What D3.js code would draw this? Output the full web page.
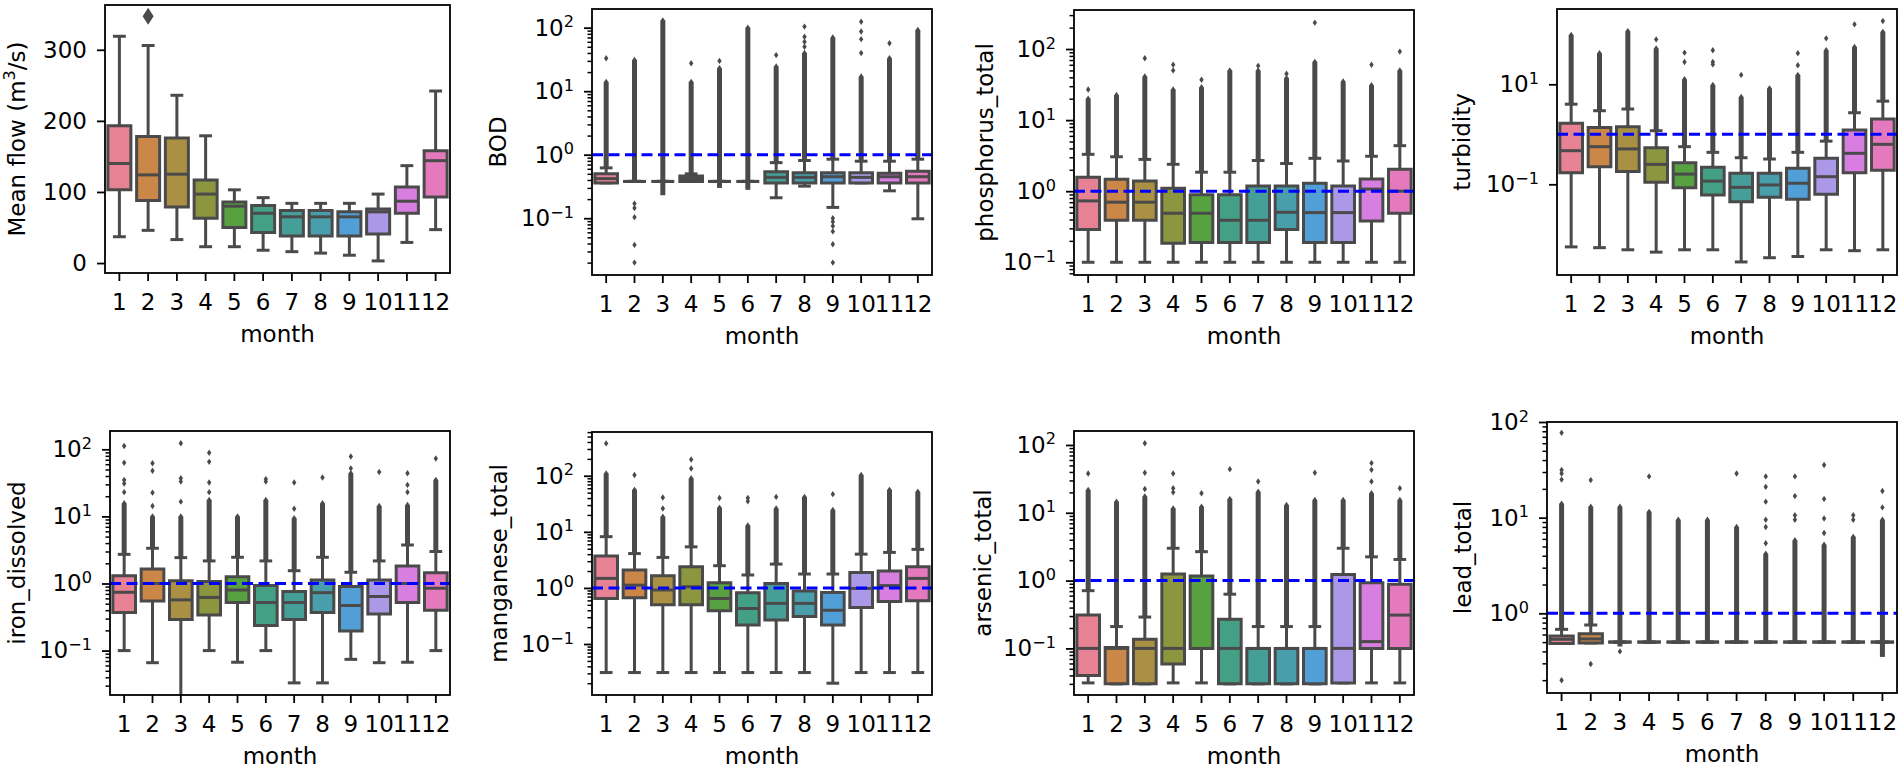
<!DOCTYPE html>
<html>
<head>
<meta charset="utf-8">
<script src="https://cdn.jsdelivr.net/npm/d3@7"></script>
<style>
  body { margin: 0; background: #fff; }
  text { font-family: "DejaVu Sans", sans-serif; }
</style>
</head>
<body>
<div id="chart"></div>
<script>
var months = [1, 2, 3, 4, 5, 6, 7, 8, 9, 10, 11, 12];
// husl-like palette, desaturated below like seaborn does
var baseColors = ["#f77189", "#e18632", "#bb9832", "#97a431", "#50b131", "#34af8a",
                  "#36ada4", "#38aabc", "#3ba3ec", "#a48cf4", "#e76ef1", "#f668c2"];

// box stats per month: [whisker low, q1, median, q3, whisker high]
// dense = range covered by a solid column of outliers, fliers = single outliers
var flowBox = [[37,103,140,193,319],[46,88,124,178,306],[33,79,125,176,236],[23,63,97,117,179],
  [23,50,80,86,103],[18,43,70,81,92],[16,38,65,74,84],[14,38,65,74,84],[11,38,65,72,84],
  [3,41,72,76,97],[29,70,87,107,137],[47,93,144,158,242]];
var flowFliers = [[],[347],[],[],[],[],[],[],[],[],[],[]];

var bodBox = [[0.36,0.36,0.42,0.5,0.62],[0.38,0.38,0.38,0.38,0.38],[0.38,0.38,0.38,0.38,0.38],
  [0.38,0.38,0.42,0.46,0.5],[0.38,0.38,0.38,0.38,0.38],[0.38,0.38,0.38,0.38,0.38],
  [0.21,0.36,0.44,0.54,0.75],[0.32,0.36,0.44,0.52,0.81],[0.148,0.36,0.45,0.52,0.85],
  [0.36,0.36,0.44,0.52,0.79],[0.27,0.36,0.45,0.51,0.79],[0.098,0.36,0.45,0.55,0.85]];
var bodDense = [[0.62,14],[0.38,31],[0.23,130],[0.5,14],[0.3,23],[0.28,100],[0.75,24.5],
  [0.81,40],[0.85,70],[0.79,17],[0.79,33],[0.85,92]];
var bodFliers = [[33],[0.17,0.145,0.104,0.038,0.02],[],[27.5],[30],[],[37],[104,72,60,50],
  [0.1,0.088,0.0755,0.062,0.039,0.02],[124,87,66,40],[57],[]];

var phosBox = [[0.1,0.29,0.73,1.57,3.3],[0.1,0.39,0.7,1.47,3.05],[0.1,0.39,0.7,1.39,2.8],
  [0.1,0.185,0.49,1.1,2.39],[0.1,0.19,0.49,0.89,1.85],[0.1,0.19,0.39,0.89,1.85],
  [0.1,0.19,0.39,1.18,2.7],[0.1,0.29,0.505,1.18,2.45],[0.1,0.19,0.5,1.29,2.9],
  [0.1,0.19,0.5,1.18,2.66],[0.1,0.38,1.07,1.48,3.1],[0.1,0.49,1.0,2.03,4.37]];
var phosDense = [[3.3,20],[3.05,22.5],[2.8,41],[2.39,27],[1.85,29],[1.85,50],[2.7,50],
  [2.45,39],[2.9,66],[2.66,35],[3.1,31],[4.37,50]];
var phosFliers = [[27],[],[74],[60,50],[37],[],[58],[45],[235],[],[60],[92]];

var turbBox = [[0.0056,0.17,0.47,1.66,4.0],[0.0054,0.225,0.565,1.36,2.96],[0.0049,0.18,0.51,1.42,3.2],
  [0.0044,0.11,0.25,0.54,1.18],[0.0049,0.0855,0.16,0.27,0.565],[0.0049,0.061,0.116,0.22,0.436],
  [0.0028,0.045,0.087,0.166,0.34],[0.0034,0.055,0.097,0.166,0.32],[0.0036,0.05,0.105,0.21,0.436],
  [0.0049,0.063,0.142,0.33,0.73],[0.0047,0.17,0.417,1.22,2.7],[0.0049,0.19,0.63,2.02,4.6]];
var turbDense = [[4,97],[2.96,42],[3.2,116],[1.18,52],[0.565,12.6],[0.436,9.7],[0.34,5.6],
  [0.32,8.3],[0.436,15.4],[0.73,48],[2.7,56],[4.6,112]];
var turbFliers = [[],[],[],[79],[43,28],[48,28,25],[15.4],[],[42,24],[83],[158],[185]];

var ironBox = [[0.1,0.37,0.74,1.31,2.72],[0.066,0.55,1.0,1.65,3.35],[0.01,0.29,0.57,1.1,2.43],
  [0.1,0.34,0.62,1.07,2.17],[0.067,0.52,0.8,1.26,2.46],[0.1,0.236,0.52,0.93,2.17],
  [0.033,0.29,0.52,0.76,1.55],[0.033,0.37,0.73,1.13,2.46],[0.074,0.196,0.47,0.9,1.47],
  [0.066,0.35,0.64,1.13,2.17],[0.067,0.52,1.0,1.82,3.75],[0.1,0.4,0.85,1.45,3.0]];
var ironDense = [[2.72,15.7],[3.35,10],[2.43,10],[2.17,17.6],[2.46,10],[2.17,17.6],[1.55,9.4],
  [2.46,15.7],[1.47,44],[2.17,14.3],[3.75,14.8],[3.0,35]];
var ironFliers = [[112,63,35,31,23],[62,48,22.6,14.3],[123,37,33,16.6],[89,65,32,23],[],[36,33],
  [32,13],[38],[78,52],[46],[44,29.5,23],[73]];

var mangBox = [[0.031,0.65,1.48,3.7,8.2],[0.031,0.67,1.12,2.08,4.1],[0.031,0.5,0.92,1.65,3.5],
  [0.031,0.5,1.05,2.39,5.4],[0.031,0.39,0.65,1.24,2.49],[0.031,0.218,0.43,0.82,1.7],
  [0.031,0.267,0.53,1.2,2.66],[0.031,0.31,0.53,0.88,1.77],[0.02,0.218,0.4,0.83,1.77],
  [0.031,0.45,0.98,1.89,4.0],[0.031,0.57,1.1,2.0,4.3],[0.031,0.59,1.48,2.39,4.87]];
var mangDense = [[8.2,110],[4.1,56],[3.5,18.6],[5.4,90],[2.49,27],[1.7,13],[2.66,26],[1.77,42],
  [1.77,24.5],[4.0,103],[4.3,56],[4.87,52]];
var mangFliers = [[377],[103],[41,26],[195,135],[40],[40,35],[42],[],[47],[],[],[]];

var arsBox = [[0.031,0.04,0.1,0.31,0.71],[0.03,0.03,0.1,0.103,0.21],[0.03,0.03,0.1,0.137,0.29],
  [0.031,0.059,0.1,1.25,3.0],[0.031,0.1,0.1,1.17,2.67],[0.03,0.03,0.1,0.27,0.63],
  [0.03,0.03,0.1,0.1,0.21],[0.03,0.03,0.1,0.1,0.21],[0.03,0.03,0.1,0.1,0.21],
  [0.031,0.031,0.1,1.23,3.0],[0.031,0.1,0.126,0.93,2.24],[0.031,0.1,0.31,0.88,2.05]];
var arsDense = [[0.71,21.7],[0.21,14.6],[0.29,17.4],[3.0,11.6],[2.67,12.3],[0.63,16],[0.21,20.4],
  [0.21,13],[0.21,15.4],[3.0,15.4],[2.24,19.4],[2.05,15.4]];
var arsFliers = [[38],[],[106,39,22.4],[38,23,20],[19.4],[44],[29],[],[39],[],[54,43,29],[23]];

var leadBox = [[0.485,0.485,0.535,0.58,0.68],[0.49,0.49,0.54,0.61,0.755],[0.5,0.5,0.5,0.5,0.5],
  [0.5,0.5,0.5,0.5,0.5],[0.5,0.5,0.5,0.5,0.5],[0.5,0.5,0.5,0.5,0.5],[0.5,0.5,0.5,0.5,0.5],
  [0.5,0.5,0.5,0.5,0.5],[0.5,0.5,0.5,0.5,0.5],[0.5,0.5,0.5,0.5,0.5],[0.5,0.5,0.5,0.5,0.5],
  [0.5,0.5,0.5,0.5,0.5]];
var leadDense = [[0.68,14],[0.755,13],[0.45,13],[0.5,11.5],[0.5,9.5],[0.5,9.5],[0.5,8],[0.5,4.2],
  [0.5,5.8],[0.5,5.2],[0.5,6.3],[0.35,9.5]];
var leadFliers = [[77,31.5,29,25,0.2],[24.7,0.295],[0.4],[27,9.5,8],[],[6.9],[29],
  [27,21,14.7,9.5,8,5.4],[27,16.8,10.6,9.5],[35.5,15.7,9.8,6.9],[10.6,9.5],[19,12.8]];

var decadeTicks = [0.1, 1, 10, 100];

var panels = [
  {label: "flow", box: flowBox, dense: null, fliers: flowFliers, log: false, domain: [-14, 363],
   ticks: [0, 100, 200, 300], thresh: null, x0: 105, x1: 450, y0: 5, y1: 273, labelX: 17, flier: [5.5, 8.5]},
  {label: "BOD", box: bodBox, dense: bodDense, fliers: bodFliers, log: true, domain: [-1.894, 2.294],
   ticks: decadeTicks, minor: true, thresh: 1, x0: 592, x1: 932, y0: 9, y1: 275, labelX: 498},
  {label: "phosphorus_total", box: phosBox, dense: phosDense, fliers: phosFliers, log: true, domain: [-1.179, 2.549],
   ticks: decadeTicks, minor: true, thresh: 1, x0: 1074, x1: 1414, y0: 10, y1: 275, labelX: 985},
  {label: "turbidity", box: turbBox, dense: turbDense, fliers: turbFliers, log: true, domain: [-2.814, 2.506],
   ticks: [0.1, 10], minor: false, thresh: 1, x0: 1557, x1: 1897, y0: 9, y1: 275, labelX: 1462},
  {label: "iron_dissolved", box: ironBox, dense: ironDense, fliers: ironFliers, log: true, domain: [-1.662, 2.273],
   ticks: decadeTicks, minor: true, thresh: 1, x0: 110, x1: 450, y0: 431, y1: 695, labelX: 17},
  {label: "manganese_total", box: mangBox, dense: mangDense, fliers: mangFliers, log: true, domain: [-1.909, 2.78],
   ticks: decadeTicks, minor: true, thresh: 1, x0: 592, x1: 932, y0: 432, y1: 695, labelX: 499},
  {label: "arsenic_total", box: arsBox, dense: arsDense, fliers: arsFliers, log: true, domain: [-1.687, 2.206],
   ticks: decadeTicks, minor: true, thresh: 1, x0: 1074, x1: 1414, y0: 431, y1: 695, labelX: 983},
  {label: "lead_total", box: leadBox, dense: leadDense, fliers: leadFliers, log: true, domain: [-0.833, 2.0],
   ticks: [1, 10, 100], minor: true, thresh: 1, x0: 1547, x1: 1897, y0: 422, y1: 693, labelX: 1463}
];

var lineColor = "#4a4a4a";
var fontSize = 23;

var colors = baseColors.map(function (c) {
  var h = d3.hsl(c);
  h.s = h.s * 0.75;
  return h.formatHex();
});

var svg = d3.select("#chart").append("svg")
  .attr("width", 1902)
  .attr("height", 768);

function diamond(cx, cy, w, h) {
  return "M" + cx + "," + (cy - h) + "L" + (cx + w) + "," + cy + "L" + cx + "," + (cy + h) + "L" + (cx - w) + "," + cy + "Z";
}

function supLabel(sel) {
  sel.each(function (d) {
    var e = Math.round(Math.log10(d));
    var t = d3.select(this).text(null);
    t.append("tspan").text("10");
    t.append("tspan").attr("font-size", "0.7em").attr("dy", "-0.52em")
      .text(e < 0 ? "\u2212" + Math.abs(e) : String(e));
  });
}

panels.forEach(function (p, pi) {
  var g = svg.append("g");
  var x = d3.scaleBand().domain(months).range([p.x0, p.x1]).padding(0);
  var y = p.log
    ? d3.scaleLog().domain([Math.pow(10, p.domain[0]), Math.pow(10, p.domain[1])]).range([p.y1, p.y0])
    : d3.scaleLinear().domain(p.domain).range([p.y1, p.y0]);

  var clipId = "clip" + pi;
  svg.append("clipPath").attr("id", clipId).append("rect")
    .attr("x", p.x0).attr("y", p.y0).attr("width", p.x1 - p.x0).attr("height", p.y1 - p.y0);

  var marks = g.append("g").attr("clip-path", "url(#" + clipId + ")");
  var bw = x.bandwidth() * 0.8;
  var fw = p.flier ? p.flier[0] : 2.2;
  var fh = p.flier ? p.flier[1] : 3.2;

  months.forEach(function (m, i) {
    var s = p.box[i];
    var cx = x(m) + x.bandwidth() / 2;
    var mg = marks.append("g");

    // whiskers + caps
    mg.append("line").attr("x1", cx).attr("x2", cx).attr("y1", y(s[0])).attr("y2", y(s[1]))
      .attr("stroke", lineColor).attr("stroke-width", 3);
    mg.append("line").attr("x1", cx).attr("x2", cx).attr("y1", y(s[3])).attr("y2", y(s[4]))
      .attr("stroke", lineColor).attr("stroke-width", 3);
    [s[0], s[4]].forEach(function (v) {
      mg.append("line").attr("x1", cx - bw * 0.28).attr("x2", cx + bw * 0.28)
        .attr("y1", y(v)).attr("y2", y(v))
        .attr("stroke", lineColor).attr("stroke-width", 3);
    });

    // box (path so that a flat box still shows as a line)
    mg.append("path")
      .attr("d", "M" + (cx - bw / 2) + "," + y(s[3]) + "H" + (cx + bw / 2) + "V" + y(s[1]) + "H" + (cx - bw / 2) + "Z")
      .attr("fill", colors[i]).attr("stroke", lineColor).attr("stroke-width", 3);
    mg.append("line").attr("x1", cx - bw / 2).attr("x2", cx + bw / 2)
      .attr("y1", y(s[2])).attr("y2", y(s[2]))
      .attr("stroke", lineColor).attr("stroke-width", 3);

    // outliers
    if (p.dense) {
      var dn = p.dense[i];
      mg.append("rect").attr("x", cx - 2.5).attr("width", 5)
        .attr("y", y(dn[1])).attr("height", y(dn[0]) - y(dn[1]))
        .attr("fill", lineColor);
      mg.append("path").attr("d", diamond(cx, y(dn[1]), fw, fh)).attr("fill", lineColor);
    }
    p.fliers[i].forEach(function (v) {
      mg.append("path").attr("d", diamond(cx, y(v), fw, fh)).attr("fill", lineColor);
    });
  });

  if (p.thresh) {
    marks.append("line").attr("x1", p.x0).attr("x2", p.x1)
      .attr("y1", y(p.thresh)).attr("y2", y(p.thresh))
      .attr("stroke", "#0000ff").attr("stroke-width", 3).attr("stroke-dasharray", "11,5.5");
  }

  // minor ticks
  if (p.log && p.minor) {
    var minor = y.ticks().filter(function (v) {
      return Math.abs(Math.log10(v) - Math.round(Math.log10(v))) > 1e-6;
    });
    g.append("g").attr("transform", "translate(" + p.x0 + ",0)")
      .call(d3.axisLeft(y).tickValues(minor).tickSize(4.5).tickFormat(""))
      .call(function (a) {
        a.select(".domain").remove();
        a.selectAll("line").attr("stroke", "#000").attr("stroke-width", 1.5);
      });
  }

  // y axis
  var yAxis = d3.axisLeft(y).tickValues(p.ticks).tickSize(8).tickPadding(10);
  var ya = g.append("g").attr("transform", "translate(" + p.x0 + ",0)").call(yAxis);
  ya.select(".domain").remove();
  ya.selectAll("line").attr("stroke", "#000").attr("stroke-width", 1.8);
  ya.selectAll("text").attr("font-size", fontSize).attr("fill", "#000")
    .attr("font-family", "DejaVu Sans, sans-serif");
  if (p.log) ya.selectAll(".tick text").call(supLabel);

  // x axis
  var xa = g.append("g").attr("transform", "translate(0," + p.y1 + ")")
    .call(d3.axisBottom(x).tickSize(8).tickPadding(13));
  xa.select(".domain").remove();
  xa.selectAll("line").attr("stroke", "#000").attr("stroke-width", 1.8);
  xa.selectAll("text").attr("font-size", fontSize).attr("fill", "#000")
    .attr("font-family", "DejaVu Sans, sans-serif");

  // frame
  g.append("rect").attr("x", p.x0).attr("y", p.y0)
    .attr("width", p.x1 - p.x0).attr("height", p.y1 - p.y0)
    .attr("fill", "none").attr("stroke", "#000").attr("stroke-width", 1.8);

  // axis labels
  g.append("text").attr("x", (p.x0 + p.x1) / 2).attr("y", p.y1 + 69)
    .attr("text-anchor", "middle").attr("font-size", fontSize).text("month");

  var yl = g.append("text")
    .attr("transform", "translate(" + p.labelX + "," + (p.y0 + p.y1) / 2 + ") rotate(-90)")
    .attr("text-anchor", "middle").attr("dy", "0.35em").attr("font-size", fontSize);
  if (p.label === "flow") {
    yl.append("tspan").text("Mean flow (m");
    yl.append("tspan").attr("font-size", "0.7em").attr("dy", "-0.6em").text("3");
    yl.append("tspan").attr("dy", "0.42em").text("/s)");
  } else {
    yl.text(p.label);
  }
});
</script>
</body>
</html>
